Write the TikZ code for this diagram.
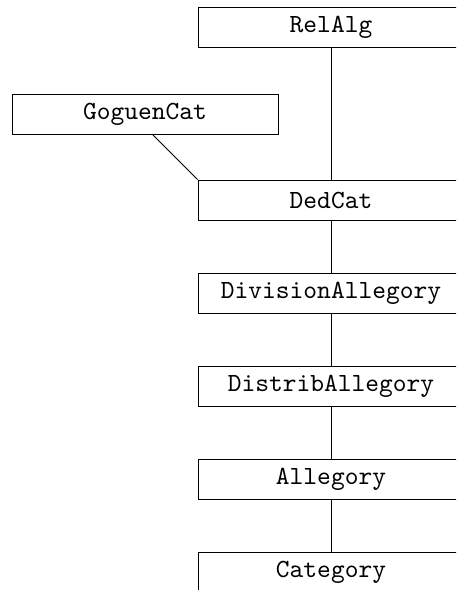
\documentclass[tikz,border=0pt]{standalone}
\newcommand\cltext[1]{\scalebox{2.62}{\ttfamily\fontsize{10}{12}\selectfont #1}}
\begin{document}
\begin{tikzpicture}[x=1pt,y=-1pt,
  cls/.style={draw,line width=0.9pt,fill=white,minimum width=266pt,minimum height=40pt,inner sep=0pt},
  link/.style={line width=0.9pt}]
\useasboundingbox[fill=white] (0,0) rectangle (456,590);
\clip (0,0) rectangle (456,590);
\node[cls] (relalg) at (331,27.5) {\cltext{RelAlg}};
\node[cls] (goguen) at (145,114.5) {\cltext{GoguenCat}};
\node[cls] (dedcat) at (331,200) {\cltext{DedCat}};
\node[cls] (divall) at (331,293.5) {\cltext{DivisionAllegory}};
\node[cls] (distall) at (331,386) {\cltext{DistribAllegory}};
\node[cls] (alleg) at (331,479.5) {\cltext{Allegory}};
\node[cls] (cat) at (331,572) {\cltext{Category}};
\draw[link] (relalg.south) -- (dedcat.north);
\draw[link] ([xshift=8pt]goguen.south) -- (dedcat.north west);
\draw[link] (dedcat.south) -- (divall.north);
\draw[link] (divall.south) -- (distall.north);
\draw[link] (distall.south) -- (alleg.north);
\draw[link] (alleg.south) -- (cat.north);
\end{tikzpicture}
\end{document}
